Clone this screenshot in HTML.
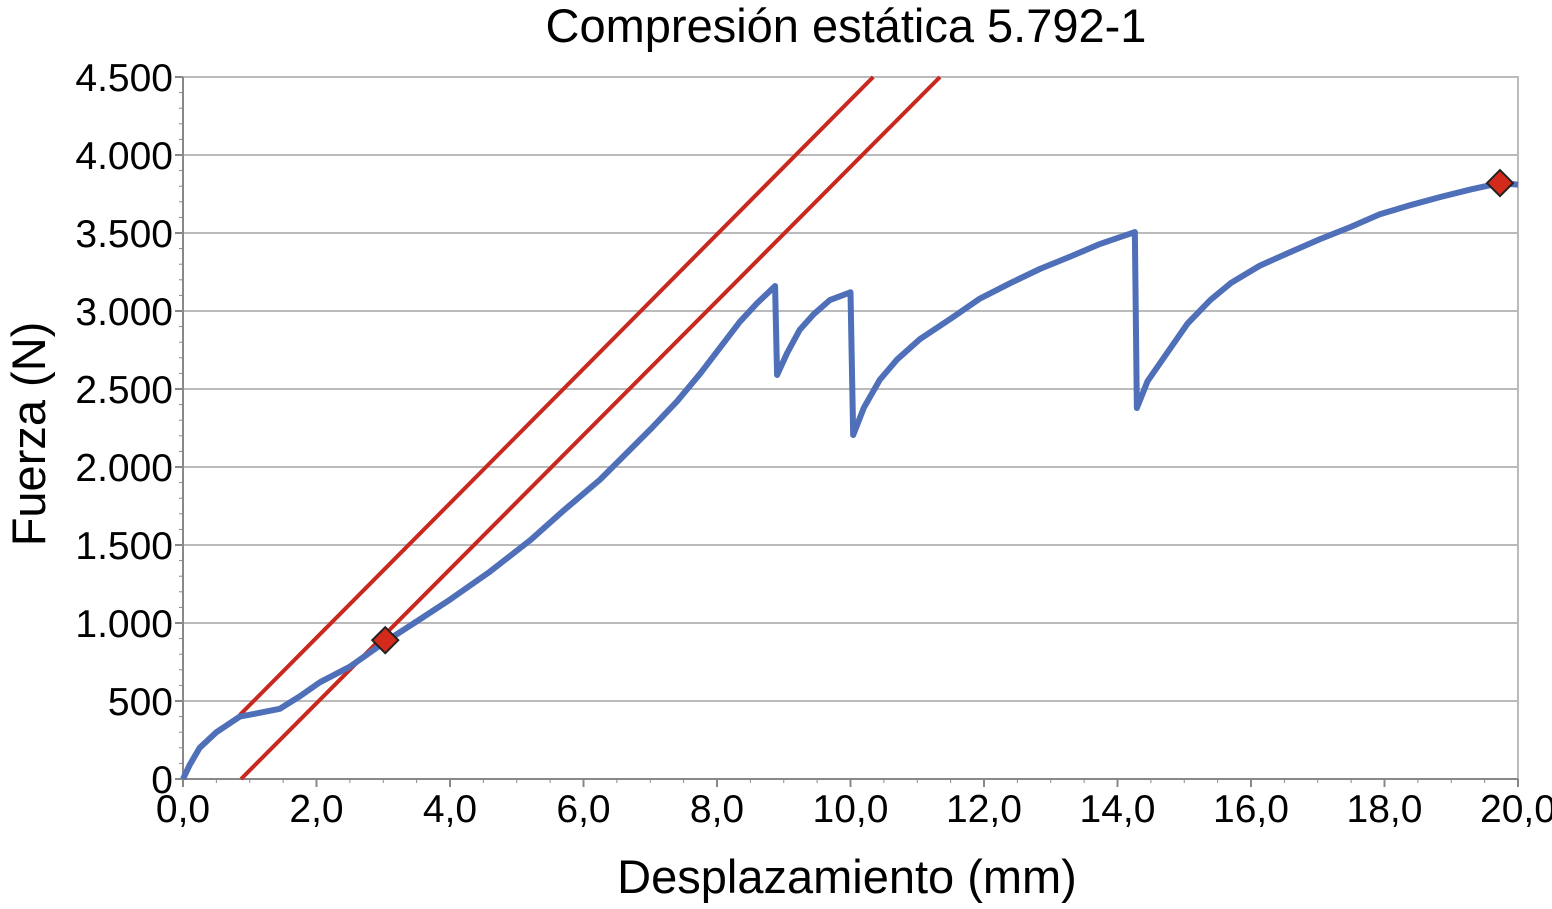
<!DOCTYPE html>
<html><head><meta charset="utf-8"><style>
body{margin:0;background:#fff;width:1552px;height:904px;overflow:hidden}
svg text{font-family:"Liberation Sans",sans-serif;fill:#000}
</style></head><body>
<svg id="chart" width="1552" height="904" xmlns="http://www.w3.org/2000/svg">
<text x="846" y="42" font-size="47" text-anchor="middle">Compresión estática 5.792-1</text>
<text x="847" y="893" font-size="47" text-anchor="middle">Desplazamiento (mm)</text>
<text transform="translate(45,434) rotate(-90)" font-size="47" text-anchor="middle">Fuerza (N)</text>
<g id="grid"></g><g id="axes"></g><g id="series"></g>
</svg>
<script>
const xTicks=[0,2,4,6,8,10,12,14,16,18,20];
const yTicks=[0,500,1000,1500,2000,2500,3000,3500,4000,4500];
const curveX=[0,0.1,0.25,0.5,0.85,1.1,1.45,1.75,2.05,2.5,3.03,3.5,4.0,4.6,5.2,5.7,6.25,7.0,7.4,7.75,8.34,8.6,8.87,8.9,9.05,9.24,9.45,9.69,10.0,10.04,10.2,10.44,10.7,11.04,11.5,11.94,12.4,12.84,13.3,13.74,14.26,14.29,14.45,14.79,15.05,15.39,15.7,16.13,16.6,17.03,17.5,17.93,18.4,18.83,19.3,19.73,20];
const curveY=[0,90,200,300,400,420,450,530,620,720,880,1010,1150,1330,1530,1720,1920,2240,2420,2600,2930,3050,3160,2590,2730,2880,2980,3070,3120,2205,2380,2560,2690,2820,2950,3080,3180,3270,3350,3430,3506,2378,2550,2760,2920,3070,3180,3290,3380,3460,3540,3620,3680,3730,3780,3820,3810];
const line1X=[0.85,10.34];const line1Y=[410,4500];
const line2X=[0.87,11.34];const line2Y=[0,4500];
const markerX=[3.03,19.73];const markerY=[890,3820];
const X0=183,X1=1518,Y0=779,Y1=77;
const sx=v=>X0+(v-0)/(20-0)*(X1-X0);
const sy=v=>Y0-(v/4500)*(Y0-Y1);
const NS="http://www.w3.org/2000/svg";
function mk(t,a,p){const e=document.createElementNS(NS,t);for(const k in a)e.setAttribute(k,a[k]);p.appendChild(e);return e;}
const grid=document.getElementById('grid'),axes=document.getElementById('axes'),ser=document.getElementById('series');
mk('rect',{x:X0,y:Y1,width:X1-X0,height:Y0-Y1,fill:'none',stroke:'#bbb','stroke-width':2},grid);
yTicks.forEach(v=>{
 if(v>0){const l=mk('line',{x1:X0,x2:X1,y1:sy(v),y2:sy(v),stroke:'#bbb','stroke-width':2},grid);
 }
 const t=mk('text',{x:173,y:sy(v)+14,'font-size':39,'text-anchor':'end'},axes);
 t.textContent=v===0?'0':v.toLocaleString('de-DE');
 
 mk('line',{x1:X0-8,x2:X0,y1:sy(v),y2:sy(v),stroke:'#888','stroke-width':2},axes);
});
xTicks.forEach(v=>{
 const t=mk('text',{x:sx(v),y:822,'font-size':39,'text-anchor':'middle'},axes);
 t.textContent=v.toFixed(1).replace('.',',');
 
 mk('line',{x1:sx(v),x2:sx(v),y1:Y0,y2:Y0+8,stroke:'#888','stroke-width':2},axes);
});
for(let i=0;i<40;i++){const v=i*0.5;mk('line',{x1:sx(v),x2:sx(v),y1:Y0,y2:Y0+4,stroke:'#888','stroke-width':1},axes);}
for(let i=0;i<45;i++){const v=i*100;mk('line',{x1:X0-4,x2:X0,y1:sy(v),y2:sy(v),stroke:'#888','stroke-width':1},axes);}
mk('line',{x1:X0,x2:X0,y1:Y1,y2:Y0,stroke:'#888','stroke-width':2},axes);
mk('line',{x1:X0,x2:X1,y1:Y0,y2:Y0,stroke:'#888','stroke-width':2},axes);
[[line1X,line1Y,'tangent-line-1'],[line2X,line2Y,'offset-line-2']].forEach(([xs,ys,n])=>{
 const l=mk('line',{x1:sx(xs[0]),y1:sy(ys[0]),x2:sx(xs[1]),y2:sy(ys[1]),stroke:'#c8281e','stroke-width':4},ser);
 
});
const p=mk('polyline',{points:curveX.map((x,i)=>sx(x)+','+sy(curveY[i])).join(' '),fill:'none',stroke:'#4f6fb8','stroke-width':6,'stroke-linejoin':'round'},ser);


markerX.forEach((x,i)=>{const cx=sx(x),cy=sy(markerY[i]);
 const m=mk('polygon',{points:`${cx},${cy-13} ${cx+13},${cy} ${cx},${cy+13} ${cx-13},${cy}`,fill:'#d42a1c',stroke:'#222','stroke-width':2},ser);
 });
</script>
</body></html>
